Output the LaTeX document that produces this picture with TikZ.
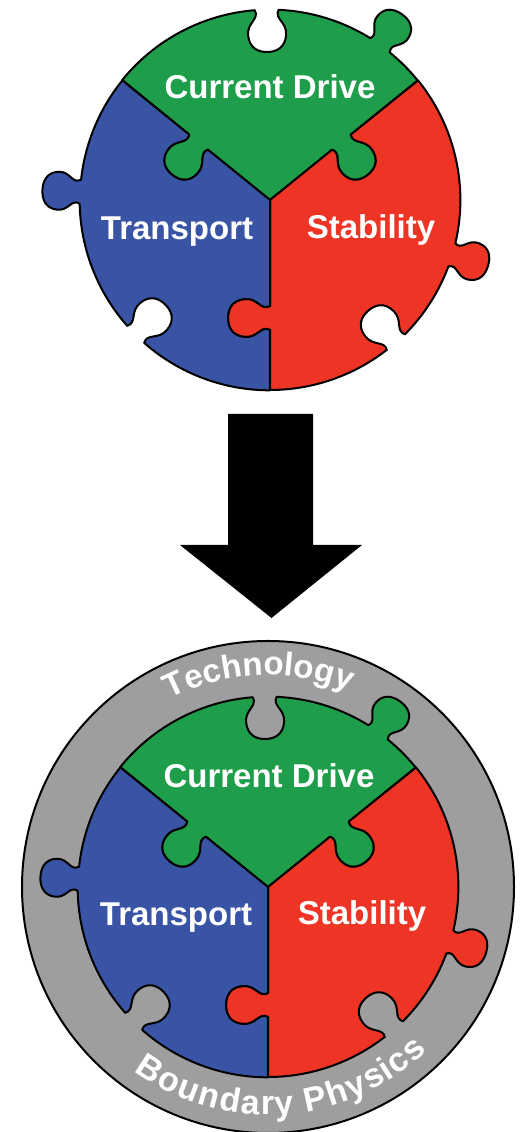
\documentclass[tikz,border=0pt]{standalone}
\usepackage{fontspec}
\setmainfont{Liberation Sans}
\usetikzlibrary{decorations.text}

\definecolor{pzgreen}{HTML}{1E9E4A}
\definecolor{pzblue}{HTML}{3954A5}
\definecolor{pzred}{HTML}{EE3424}
\definecolor{ringgray}{HTML}{9E9E9E}

\tikzset{
  % knob on the rim at angle #1, rim radius #2; #3 > 0 for a tab, < 0 for a notch
  % (its size is the depth factor; the rim is traversed counterclockwise)
  rimknob/.style n args={3}{insert path={
    -- ([rotate=#1,xshift=#2,xscale=#3]0,-12)
    .. controls ([rotate=#1,xshift=#2,xscale=#3]9,-7) and ([rotate=#1,xshift=#2,xscale=#3]12,-20)
    .. ([rotate=#1,xshift=#2,xscale=#3]25,-19)
    .. controls ([rotate=#1,xshift=#2,xscale=#3]38,-18) and ([rotate=#1,xshift=#2,xscale=#3]42,-9)
    .. ([rotate=#1,xshift=#2,xscale=#3]42,0)
    .. controls ([rotate=#1,xshift=#2,xscale=#3]42,9) and ([rotate=#1,xshift=#2,xscale=#3]38,18)
    .. ([rotate=#1,xshift=#2,xscale=#3]25,19)
    .. controls ([rotate=#1,xshift=#2,xscale=#3]12,20) and ([rotate=#1,xshift=#2,xscale=#3]9,7)
    .. ([rotate=#1,xshift=#2,xscale=#3]0,12)
  }},
  % knob on a seam leaving the centre at angle #1, at distance #2; #3 = side
  seamout/.style n args={3}{insert path={
    -- ([rotate=#1,xshift=#2,yscale=#3]-12,0)
    .. controls ([rotate=#1,xshift=#2,yscale=#3]-7,9) and ([rotate=#1,xshift=#2,yscale=#3]-20,12)
    .. ([rotate=#1,xshift=#2,yscale=#3]-19,25)
    .. controls ([rotate=#1,xshift=#2,yscale=#3]-18,38) and ([rotate=#1,xshift=#2,yscale=#3]-9,42)
    .. ([rotate=#1,xshift=#2,yscale=#3]0,42)
    .. controls ([rotate=#1,xshift=#2,yscale=#3]9,42) and ([rotate=#1,xshift=#2,yscale=#3]18,38)
    .. ([rotate=#1,xshift=#2,yscale=#3]19,25)
    .. controls ([rotate=#1,xshift=#2,yscale=#3]20,12) and ([rotate=#1,xshift=#2,yscale=#3]7,9)
    .. ([rotate=#1,xshift=#2,yscale=#3]12,0)
  }},
  % the same seam knob, traversed back towards the centre
  seamin/.style n args={3}{insert path={
    -- ([rotate=#1,xshift=#2,yscale=#3]12,0)
    .. controls ([rotate=#1,xshift=#2,yscale=#3]7,9) and ([rotate=#1,xshift=#2,yscale=#3]20,12)
    .. ([rotate=#1,xshift=#2,yscale=#3]19,25)
    .. controls ([rotate=#1,xshift=#2,yscale=#3]18,38) and ([rotate=#1,xshift=#2,yscale=#3]9,42)
    .. ([rotate=#1,xshift=#2,yscale=#3]0,42)
    .. controls ([rotate=#1,xshift=#2,yscale=#3]-9,42) and ([rotate=#1,xshift=#2,yscale=#3]-18,38)
    .. ([rotate=#1,xshift=#2,yscale=#3]-19,25)
    .. controls ([rotate=#1,xshift=#2,yscale=#3]-20,12) and ([rotate=#1,xshift=#2,yscale=#3]-7,9)
    .. ([rotate=#1,xshift=#2,yscale=#3]-12,0)
  }},
  piece/.style={draw=black, line width=2pt, line join=round},
  lbl/.style={text=white, font=\bfseries\fontsize{33}{33}\selectfont, anchor=base, inner sep=0pt},
  pics/puzzle/.style={code={
    % Current Drive piece
    \filldraw[piece, fill=pzgreen] (0,0) [seamout={39}{92}{-1}] -- (39:190)
      arc[start angle=39, end angle=51, radius=190pt] [rimknob={54.6}{190}{0.9}]
      arc[start angle=58.2, end angle=87.4, radius=190pt] [rimknob={91}{190}{-1}]
      arc[start angle=94.6, end angle=141, radius=190pt] [seamin={141}{92}{1}] -- cycle;
    % Stability piece
    \filldraw[piece, fill=pzred] (0,0) [seamout={270}{118}{-1}] -- (270:190)
      arc[start angle=270, end angle=307.9, radius=190pt] [rimknob={311.5}{190}{-1}]
      arc[start angle=315.1, end angle=339.6, radius=190pt] [rimknob={343.2}{190}{0.9}]
      arc[start angle=346.8, end angle=399, radius=190pt] [seamin={39}{92}{-1}] -- cycle;
    % Transport piece
    \filldraw[piece, fill=pzblue] (0,0) [seamout={141}{92}{1}] -- (141:190)
      arc[start angle=141, end angle=173.9, radius=190pt] [rimknob={177.5}{190}{0.9}]
      arc[start angle=181.1, end angle=221.4, radius=190pt] [rimknob={225}{190}{-1}]
      arc[start angle=228.6, end angle=270, radius=190pt] [seamin={270}{118}{-1}] -- cycle;
  }}
}

\begin{document}
\begin{tikzpicture}[x=1pt, y=1pt]
  \useasboundingbox (0,0) rectangle (529,1132);

  % upper puzzle
  \pic (upper) at (270,932) {puzzle};
  \node[lbl] (cd1) at (270,1033) {Current Drive};
  \node[lbl] (tr1) at (177,892) {Transport};
  \node[lbl] (st1) at (371,893) {Stability};

  % block arrow
  \fill[black] (228,718) -- (313,718) -- (313,587) -- (362,587) -- (271.5,514)
    -- (180,587) -- (228,587) -- cycle;

  % lower puzzle inside the grey ring
  \begin{scope}[shift={(268,245)}]
    \filldraw[fill=ringgray, draw=black, line width=2pt] (0,0) circle[radius=246pt];
    \path[decorate, decoration={text along path, text align=center, text color=white,
        text={|\bfseries\fontsize{33}{33}\selectfont|Technology}}]
      (152.5:212) arc[start angle=152.5, end angle=32.5, radius=212pt];
    % path runs through the letters, baseline pushed outwards
    \path[decorate, decoration={text along path, text align=center, text color=white,
        raise=-18pt, text={|\bfseries\fontsize{34}{34}\selectfont|Boundary Physics}}]
      (214:210) arc[start angle=214, end angle=334, radius=210pt];
  \end{scope}
  \pic (lower) at (268,245) {puzzle};
  \node[lbl] (cd2) at (269,344) {Current Drive};
  \node[lbl] (tr2) at (176,206) {Transport};
  \node[lbl] (st2) at (362,207) {Stability};
\end{tikzpicture}
\end{document}
